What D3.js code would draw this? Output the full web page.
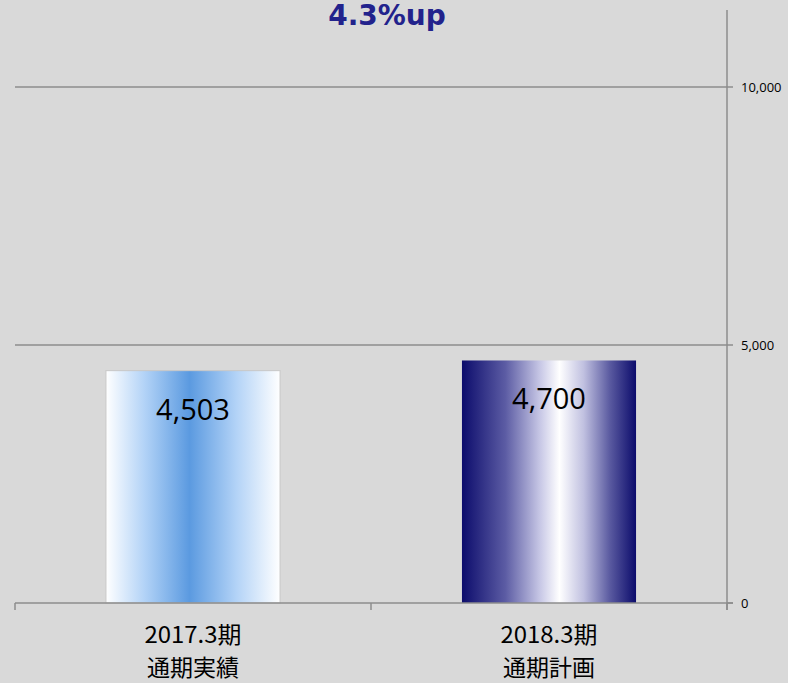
<!DOCTYPE html>
<html><head><meta charset="utf-8">
<script src="https://cdn.jsdelivr.net/npm/d3@7"></script>
<style>body{margin:0;background:#d9d9d9;}svg{display:block;}</style>
</head><body>
<svg id="c" width="788" height="683"></svg>
<script>
const categories = ["2017.3期\n通期実績", "2018.3期\n通期計画"];
const values = [4503, 4700];
const valueLabels = ["4,503", "4,700"];
const yTicks = [0, 5000, 10000];
const yTickLabels = ["0", "5,000", "10,000"];
const title = "4.3%up";

const svg = d3.select("#c");
svg.append("rect").attr("width",788).attr("height",683).attr("fill","#d9d9d9");

const left = 15, right = 727, bottom = 603;
const x = d3.scaleBand().domain(categories).range([left, right]).paddingInner(0.511).paddingOuter(0.2555);
const y = d3.scaleLinear().domain([0, 10000]).range([bottom, 87]);

const defs = svg.append("defs");
const g1 = defs.append("linearGradient").attr("id","g1").attr("x1","0").attr("x2","1").attr("y1","0").attr("y2","0");
[[0,"#ffffff"],[0.22,"#b3d3f7"],[0.48,"#5b9ae0"],[0.75,"#b3d3f7"],[1,"#ffffff"]].forEach(s=>g1.append("stop").attr("offset",s[0]).attr("stop-color",s[1]));
const g2 = defs.append("linearGradient").attr("id","g2").attr("x1","0").attr("x2","1").attr("y1","0").attr("y2","0");
[[0,"#0c0c6c"],[0.25,"#5c5ca4"],[0.45,"#c8c8e6"],[0.56,"#ffffff"],[0.7,"#c0c0e0"],[0.85,"#5a5aa0"],[1,"#0c0c6c"]].forEach(s=>g2.append("stop").attr("offset",s[0]).attr("stop-color",s[1]));

// gridlines
svg.append("g").selectAll("line").data(yTicks.filter(d=>d>0)).join("line")
  .attr("x1",left).attr("x2",right).attr("y1",d=>y(d)).attr("y2",d=>y(d))
  .attr("stroke","#8c8c8c").attr("stroke-width",1.5);

// bars
svg.append("g").selectAll("rect").data(values).join("rect")
  .attr("x",(d,i)=>x(categories[i])).attr("width",x.bandwidth())
  .attr("y",d=>y(d)).attr("height",d=>bottom-y(d))
  .attr("fill",(d,i)=>i===0?"url(#g1)":"url(#g2)")
  .attr("stroke",(d,i)=>i===0?"#c8c8c8":"none").attr("stroke-width",1);

// value labels
svg.append("g").selectAll("text").data(values).join("text")
  .attr("x",(d,i)=>x(categories[i])+x.bandwidth()/2).attr("y",d=>y(d)+49)
  .attr("text-anchor","middle").attr("font-family","Open Sans, Noto Sans, sans-serif")
  .attr("font-size",29).attr("fill","#000").text((d,i)=>valueLabels[i]);

// x axis
svg.append("line").attr("x1",left).attr("x2",right+6).attr("y1",bottom).attr("y2",bottom).attr("stroke","#8c8c8c").attr("stroke-width",1.5);
const xt = [left, left+(right-left)/2, right];
svg.append("g").selectAll("line").data(xt).join("line")
  .attr("x1",d=>d).attr("x2",d=>d).attr("y1",bottom).attr("y2",bottom+7).attr("stroke","#8c8c8c").attr("stroke-width",1.5);

// right y axis
svg.append("line").attr("x1",right).attr("x2",right).attr("y1",10).attr("y2",bottom+7).attr("stroke","#8c8c8c").attr("stroke-width",1.5);
svg.append("g").selectAll("line").data(yTicks).join("line")
  .attr("x1",right).attr("x2",right+6).attr("y1",d=>y(d)).attr("y2",d=>y(d)).attr("stroke","#8c8c8c").attr("stroke-width",1.5);
svg.append("g").selectAll("text").data(yTicks).join("text")
  .attr("x",741).attr("y",d=>y(d)+5).attr("font-family","Open Sans, Noto Sans, sans-serif")
  .attr("font-size",13).attr("fill","#000").text((d,i)=>yTickLabels[i]);

// category labels (one text element per line)
const lines = [];
categories.forEach(c => c.split("\n").forEach((s,i) => lines.push({cat:c, line:i, text:s})));
svg.append("g").selectAll("text").data(lines).join("text")
  .attr("x",d=>x(d.cat)+x.bandwidth()/2).attr("y",d=>d.line===0?643:676)
  .attr("text-anchor","middle")
  .attr("font-family","Noto Sans CJK JP, sans-serif").attr("font-size",23).attr("fill","#000")
  .attr("textLength",d=>d.line===0?97:null).attr("lengthAdjust",d=>d.line===0?"spacingAndGlyphs":null)
  .text(d=>d.text);

// title
svg.append("text").attr("x",387).attr("y",25).attr("text-anchor","middle")
  .attr("font-family","DejaVu Sans, Verdana, sans-serif").attr("font-weight","bold")
  .attr("font-size",28).attr("fill","#22228c").text(title);
</script>
</body></html>
